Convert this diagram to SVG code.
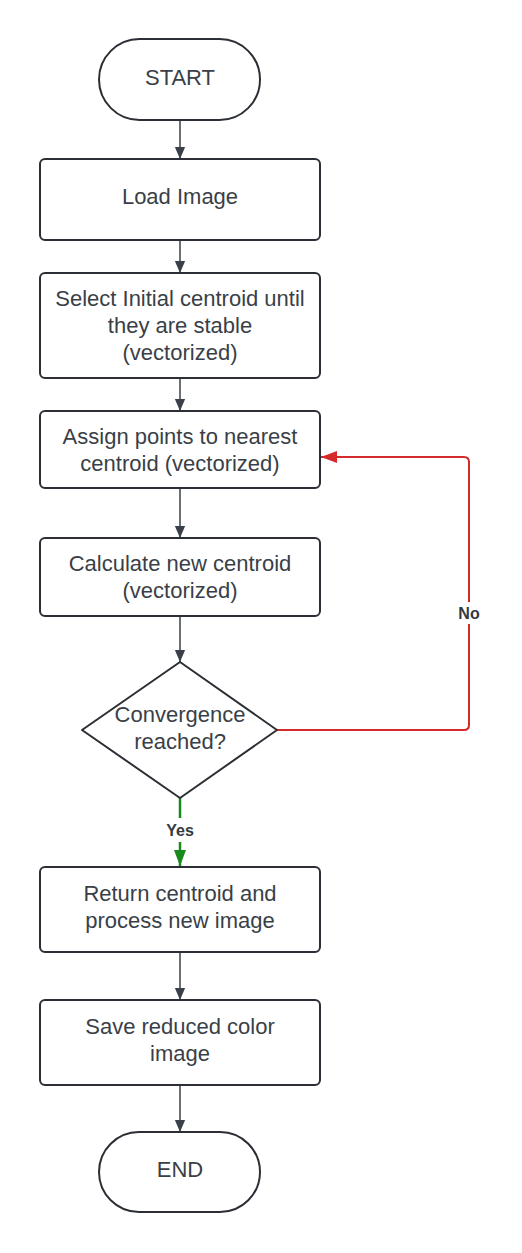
<svg xmlns="http://www.w3.org/2000/svg" width="522" height="1253" viewBox="0 0 522 1253">
<defs>
<style>
.n{fill:#ffffff;stroke:#2b2f35;stroke-width:2}
.t{font-family:"Liberation Sans",Arial,sans-serif;font-size:22px;fill:#3a3f47;text-anchor:middle}
.l{font-family:"Liberation Sans",Arial,sans-serif;font-size:16px;font-weight:bold;fill:#333a42;text-anchor:middle}
.c{fill:none;stroke:#3a4049;stroke-width:1.5}
.r{fill:none;stroke:#d42a2a;stroke-width:2}
.g{fill:none;stroke:#188a1c;stroke-width:2.5}
</style>
<marker id="ad" markerUnits="userSpaceOnUse" markerWidth="12" markerHeight="16" refX="14" refY="6" orient="auto" viewBox="0 0 14 12"><path d="M0,0 L14,6 L0,12 Z" fill="#3a4049"/></marker>
<marker id="ar" markerUnits="userSpaceOnUse" markerWidth="16" markerHeight="12" refX="16" refY="6" orient="auto" viewBox="0 0 16 12"><path d="M0,0 L16,6 L0,12 Z" fill="#d42a2a"/></marker>
<marker id="ag" markerUnits="userSpaceOnUse" markerWidth="16" markerHeight="12" refX="16" refY="6" orient="auto" viewBox="0 0 16 12"><path d="M0,0 L16,6 L0,12 Z" fill="#188a1c"/></marker>
</defs>
<rect width="522" height="1253" fill="#ffffff"/>
<g id="connectors">
<line class="c" x1="180" y1="120" x2="180" y2="159" marker-end="url(#ad)"/>
<line class="c" x1="180" y1="240" x2="180" y2="273" marker-end="url(#ad)"/>
<line class="c" x1="180" y1="378" x2="180" y2="411" marker-end="url(#ad)"/>
<line class="c" x1="180" y1="488" x2="180" y2="538" marker-end="url(#ad)"/>
<line class="c" x1="180" y1="616" x2="180" y2="662" marker-end="url(#ad)"/>
<line class="c" x1="180" y1="952" x2="180" y2="1000" marker-end="url(#ad)"/>
<line class="c" x1="180" y1="1085" x2="180" y2="1132" marker-end="url(#ad)"/>
<path class="g" d="M180,798 L180,818"/>
<path class="g" d="M180,842 L180,866" marker-end="url(#ag)"/>
<text class="l" x="180" y="836">Yes</text>
<path class="r" d="M277,730 L464,730 Q469,730 469,725 L469,624"/>
<path class="r" d="M469,602 L469,462 Q469,457 464,457 L321,457" marker-end="url(#ar)"/>
<text class="l" x="469" y="619">No</text>
</g>
<g id="start">
<rect class="n" x="99" y="39" width="161" height="81" rx="40.5"/>
<text class="t" x="180" y="85">START</text>
</g>
<g id="load">
<rect class="n" x="40" y="159" width="280" height="81" rx="5"/>
<text class="t" x="180" y="204">Load Image</text>
</g>
<g id="select">
<rect class="n" x="40" y="273" width="280" height="105" rx="5"/>
<text class="t" x="180" y="305.5">Select Initial centroid until</text>
<text class="t" x="180" y="333">they are stable</text>
<text class="t" x="180" y="360">(vectorized)</text>
</g>
<g id="assign">
<rect class="n" x="40" y="411" width="280" height="77" rx="5"/>
<text class="t" x="180" y="444">Assign points to nearest</text>
<text class="t" x="180" y="471">centroid (vectorized)</text>
</g>
<g id="calculate">
<rect class="n" x="40" y="538" width="280" height="78" rx="5"/>
<text class="t" x="180" y="571">Calculate new centroid</text>
<text class="t" x="180" y="598">(vectorized)</text>
</g>
<g id="decision">
<path class="n" d="M180,662 L277,730 L180,798 L82,730 Z" stroke-linejoin="round"/>
<text class="t" x="180" y="722">Convergence</text>
<text class="t" x="180" y="749">reached?</text>
</g>
<g id="return">
<rect class="n" x="40" y="867" width="280" height="85" rx="5"/>
<text class="t" x="180" y="901">Return centroid and</text>
<text class="t" x="180" y="928">process new image</text>
</g>
<g id="save">
<rect class="n" x="40" y="1000" width="280" height="85" rx="5"/>
<text class="t" x="180" y="1034">Save reduced color</text>
<text class="t" x="180" y="1061">image</text>
</g>
<g id="end">
<rect class="n" x="99" y="1132" width="161" height="80" rx="40"/>
<text class="t" x="180" y="1177">END</text>
</g>
</svg>
